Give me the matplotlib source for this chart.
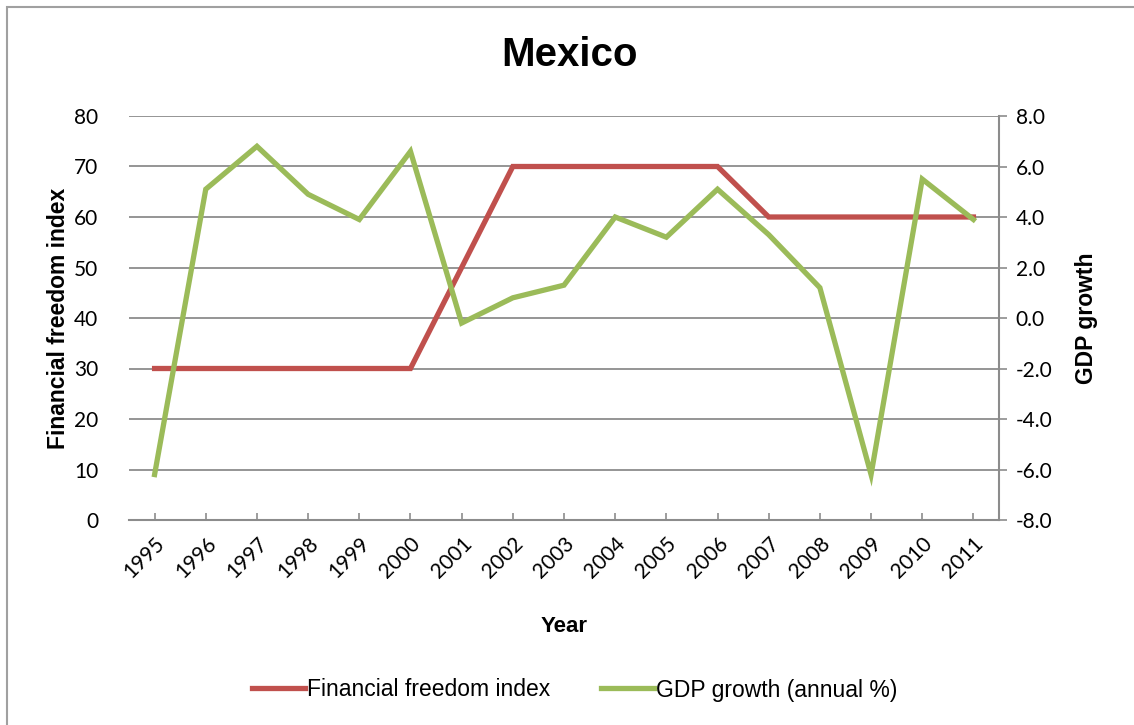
import numpy as np
import matplotlib.pyplot as plt
from matplotlib.patches import Rectangle

# data
years = [str(y) for y in range(1995, 2012)]
freedom = [30, 30, 30, 30, 30, 30, 50, 70, 70, 70, 70, 70, 60, 60, 60, 60, 60]
gdp = [-6.2, 5.1, 6.8, 4.9, 3.9, 6.6, -0.2, 0.8, 1.3, 4.0, 3.2, 5.1, 3.3, 1.2, -6.2, 5.5, 3.9]

red = "#C0504D"
green = "#9BBB59"
grid = "#8C8C8C"

narrow = ["Liberation Sans", "DejaVu Sans"]
tickfont = ["Lato", "DejaVu Sans"]

fig = plt.figure(figsize=(11.34, 7.25), dpi=100)
W, H = 1134, 725

# outer chart border (cut off at right and bottom)
fig.patches.append(Rectangle((7 / W, -0.1), 1.2, 1.1 - 7 / H, transform=fig.transFigure,
                             fill=False, edgecolor="#A0A0A0", linewidth=1.5))

ax = fig.add_axes([129 / W, 1 - 520 / H, 870 / W, 404 / H])
ax2 = ax.twinx()

x = np.arange(len(years))
l1, = ax.plot(x, freedom, color=red, linewidth=3.8, solid_joinstyle="miter")
l2, = ax2.plot(x, gdp, color=green, linewidth=3.8, solid_joinstyle="miter")

ax.set_xlim(-0.5, len(years) - 0.5)
ax.set_ylim(0, 80)
ax.set_yticks(range(0, 81, 10))
ax2.set_ylim(-8, 8)
ax2.set_yticks(np.arange(-8, 8.1, 2))
ax2.set_yticklabels([f"{v:.1f}" for v in np.arange(-8, 8.1, 2)])

ax.yaxis.grid(True, color=grid, linewidth=1.3)
ax.set_axisbelow(True)

for a in (ax, ax2):
    for s in ("top", "left", "right"):
        a.spines[s].set_visible(False)
ax.spines["bottom"].set_color(grid)
ax.spines["bottom"].set_linewidth(1.5)
ax2.spines["bottom"].set_visible(False)
ax2.spines["right"].set_visible(True)
ax2.spines["right"].set_color(grid)
ax2.spines["right"].set_linewidth(1.5)

ax.set_xticks(x)
ax.set_xticklabels(years, rotation=45, ha="right", rotation_mode="anchor",
                   family=tickfont, fontsize=15)
ax.tick_params(axis="x", direction="in", length=5, color=grid, width=1.2, pad=10)
ax.tick_params(axis="y", length=0, pad=22)
ax2.tick_params(axis="y", direction="out", length=6, color=grid, width=1.2, pad=6)
for lab in ax.get_yticklabels() + ax2.get_yticklabels():
    lab.set_family(tickfont)
    lab.set_fontsize(15)

ax.set_xlabel("Year", family=narrow, fontsize=16, fontweight="bold", labelpad=24)
ax.set_ylabel("Financial freedom index", family=narrow, fontsize=16.5, fontweight="bold", labelpad=3)
ax2.set_ylabel("GDP growth", family=narrow, fontsize=16.5, fontweight="bold", labelpad=16)

fig.text(570 / W, 1 - 55 / H, "Mexico", family=narrow, fontsize=29, fontweight="bold",
         ha="center", va="center")

fig.legend([l1, l2], ["Financial freedom index", "GDP growth (annual %)"],
           loc="center", bbox_to_anchor=(575 / W, 1 - 690 / H), ncol=2, frameon=False,
           prop={"family": narrow, "size": 16.5}, handlelength=2.3, handletextpad=0.1,
           columnspacing=2.2)

fig.savefig("out.png", dpi=100)
